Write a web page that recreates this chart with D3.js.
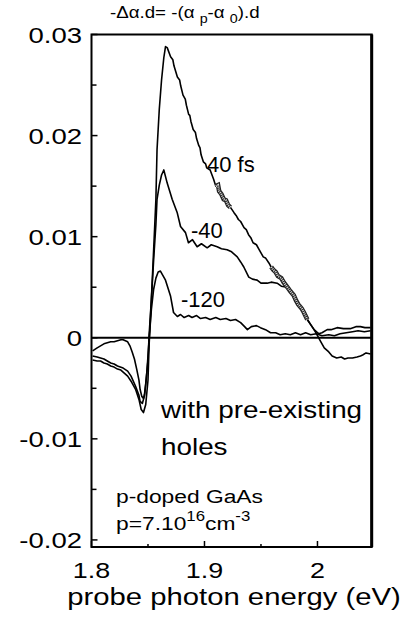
<!DOCTYPE html>
<html>
<head>
<meta charset="utf-8">
<script src="https://cdn.jsdelivr.net/npm/d3@7"></script>
<style>
  body { margin: 0; background: #fff; }
  text { font-family: "Liberation Sans", Arial, Helvetica, sans-serif; fill: #000; }
</style>
</head>
<body>
<svg id="chart" width="409" height="626"></svg>
<script>
// Data: [photon energy (eV), -delta alpha . d]
const trace40fs = [
  [1.801,-0.0013],[1.805,-0.0010],[1.808,-0.0008],[1.811,-0.0006],[1.814,-0.0005],[1.817,-0.0004],
  [1.820,-0.0004],[1.823,-0.0003],[1.826,-0.0002],[1.828,-0.0002],[1.830,-0.0003],[1.832,-0.0004],
  [1.834,-0.0008],[1.836,-0.0014],[1.838,-0.0021],[1.840,-0.0031],[1.842,-0.0042],[1.843,-0.0051],
  [1.8445,-0.0058],[1.846,-0.0060],[1.847,-0.0055],[1.848,-0.0046],[1.850,-0.0022],[1.851,0.0003],
  [1.853,0.0038],[1.855,0.0087],[1.857,0.0137],[1.858,0.0186],[1.860,0.0226],[1.862,0.0255],
  [1.864,0.0277],[1.8655,0.0288],[1.867,0.0287],[1.870,0.0278],[1.872,0.0275],[1.873,0.0269],
  [1.876,0.0258],[1.878,0.0255],[1.879,0.0249],[1.881,0.0240],[1.883,0.0236],[1.884,0.0230],
  [1.886,0.0221],[1.887,0.0220],[1.888,0.0214],[1.890,0.0206],[1.892,0.0203],[1.893,0.0197],
  [1.895,0.0190],[1.896,0.0188],[1.897,0.0181],[1.899,0.0174],[1.901,0.0172],[1.902,0.0168],
  [1.905,0.0166],[1.907,0.0160],[1.908,0.0157],[1.910,0.0150],[1.912,0.0151],[1.913,0.0145],
  [1.915,0.0142],[1.917,0.0137],[1.919,0.0136],[1.921,0.0131],[1.923,0.0129],[1.926,0.0124],
  [1.928,0.0121],[1.930,0.0117],[1.932,0.0115],[1.935,0.0109],[1.937,0.0107],[1.939,0.0102],
  [1.941,0.0099],[1.943,0.0094],[1.946,0.0092],[1.948,0.0088],[1.950,0.0084],[1.952,0.0080],
  [1.954,0.0079],[1.957,0.0074],[1.959,0.0070],[1.961,0.0067],[1.963,0.0065],[1.965,0.0061],
  [1.968,0.0059],[1.970,0.0055],[1.972,0.0052],[1.974,0.0049],[1.976,0.0046],[1.979,0.0042],
  [1.981,0.0037],[1.983,0.0033],[1.986,0.0029],[1.988,0.0025],[1.991,0.0018],[1.994,0.0013],
  [1.997,0.0008],[2.000,0.0002],[2.003,-0.0004],[2.006,-0.0010],[2.010,-0.0014],[2.013,-0.0018],
  [2.017,-0.0020],[2.021,-0.0019],[2.024,-0.0021],[2.027,-0.0020],[2.031,-0.0020],[2.035,-0.0019],
  [2.038,-0.0018],[2.040,-0.0017],[2.043,-0.0015],[2.047,-0.0016]
];

const traceMinus40 = [
  [1.801,-0.0022],[1.805,-0.0023],[1.808,-0.0023],[1.811,-0.0025],[1.814,-0.0026],[1.817,-0.0028],
  [1.820,-0.0029],[1.823,-0.0031],[1.826,-0.0032],[1.828,-0.0034],[1.832,-0.0038],[1.835,-0.0043],
  [1.839,-0.0051],[1.842,-0.0061],[1.844,-0.0071],[1.846,-0.0074],[1.848,-0.0066],[1.850,-0.0042],
  [1.851,-0.0007],[1.853,0.0038],[1.855,0.0077],[1.857,0.0112],[1.858,0.0137],[1.860,0.0151],
  [1.862,0.0161],[1.864,0.0166],[1.867,0.0153],[1.8714,0.0137],[1.8758,0.0124],[1.8788,0.0110],
  [1.8832,0.0104],[1.8858,0.0094],[1.8894,0.0097],[1.8935,0.0090],[1.8973,0.0093],[1.9024,0.0089],
  [1.906,0.0092],[1.9112,0.0090],[1.915,0.0088],[1.920,0.0087],[1.924,0.0085],[1.929,0.0080],
  [1.932,0.0075],[1.9348,0.0070],[1.9392,0.0060],[1.9425,0.0058],[1.9466,0.0057],[1.950,0.0054],
  [1.9555,0.0054],[1.959,0.0055],[1.9643,0.0054],[1.968,0.0051],[1.9732,0.0050],[1.9788,0.0042],
  [1.983,0.0033],[1.9876,0.0025],[1.991,0.0018],[1.994,0.0013],[1.997,0.0008],[2.001,0.0004],
  [2.004,0.0005],[2.0086,0.0008],[2.012,0.0008],[2.0174,0.0010],[2.023,0.0009],[2.029,0.0009],
  [2.034,0.0011],[2.038,0.0011],[2.042,0.0010],[2.047,0.0010]
];

const traceMinus120 = [
  [1.801,-0.0018],[1.805,-0.0019],[1.808,-0.0020],[1.811,-0.0021],[1.814,-0.0023],[1.817,-0.0025],
  [1.820,-0.0026],[1.823,-0.0028],[1.828,-0.0030],[1.832,-0.0033],[1.835,-0.0038],[1.839,-0.0048],
  [1.842,-0.0057],[1.843,-0.0063],[1.845,-0.0065],[1.847,-0.0057],[1.849,-0.0034],[1.851,-0.0002],
  [1.853,0.0028],[1.855,0.0048],[1.857,0.0059],[1.859,0.0065],[1.861,0.0066],[1.8655,0.0057],
  [1.870,0.0041],[1.8726,0.0025],[1.876,0.0021],[1.8788,0.0023],[1.882,0.0020],[1.886,0.0022],
  [1.889,0.0020],[1.893,0.0022],[1.8965,0.0019],[1.901,0.0020],[1.905,0.0018],[1.910,0.0020],
  [1.914,0.0018],[1.919,0.0019],[1.923,0.0017],[1.9275,0.0018],[1.932,0.0015],[1.9355,0.0011],
  [1.938,0.0008],[1.9415,0.0011],[1.946,0.0012],[1.9495,0.0010],[1.954,0.0008],[1.9585,0.0005],
  [1.963,0.0005],[1.967,0.0003],[1.9715,0.0004],[1.976,0.0003],[1.9805,0.0005],[1.985,0.0003],
  [1.9895,0.0005],[1.994,0.0003],[1.999,0.0004],[2.004,0.0002],[2.010,0.0003],[2.015,0.0002],
  [2.020,0.0004],[2.0255,0.0005],[2.031,0.0006],[2.036,0.0007],[2.0415,0.0006],[2.047,0.0007]
];

// energy ranges where the 40 fs trace looks hatched
const hatchRanges = [[1.910, 1.925], [1.958, 1.991]];

const xMajor = [1.8, 1.9, 2.0];
const xMinor = [1.85, 1.95];
const xTickLabels = ["1.8", "1.9", "2"];
const yMajor = [0.03, 0.02, 0.01, 0, -0.01, -0.02];
const yMinor = [0.025, 0.015, 0.005, -0.005, -0.015];
const yTickLabels = ["0.03", "0.02", "0.01", "0", "-0.01", "-0.02"];

const svg = d3.select("#chart");

const x = d3.scaleLinear().domain([1.8, 2.048]).range([91.5, 371.7]);
const y = d3.scaleLinear().domain([-0.0207, 0.03]).range([547, 34.5]);

// text helper, the figure's lettering is a bit wider than normal
function label(px, py, size, sx, anchor) {
  return svg.append("g")
    .attr("transform", "translate(" + px + "," + py + ") scale(" + sx + ",1)")
    .append("text")
    .attr("text-anchor", anchor || "start")
    .style("font-size", size + "px");
}

// zero line
svg.append("line")
  .attr("x1", x(1.8)).attr("x2", x(2.048))
  .attr("y1", y(0)).attr("y2", y(0))
  .attr("stroke", "#000").attr("stroke-width", 2);

// curves
const line = d3.line().x(d => x(d[0])).y(d => y(d[1]));

[trace40fs, traceMinus40, traceMinus120].forEach(function(tr) {
  svg.append("path")
    .datum(tr)
    .attr("d", line)
    .attr("fill", "none")
    .attr("stroke", "#000")
    .attr("stroke-width", 1.6)
    .attr("stroke-linejoin", "round");
});

// hatched bits of the 40 fs trace
hatchRanges.forEach(function(r) {
  const part = trace40fs.filter(d => d[0] >= r[0] && d[0] <= r[1]);
  svg.append("path").datum(part).attr("d", line)
    .attr("fill", "none").attr("stroke", "#222").attr("stroke-width", 4.6);
  svg.append("path").datum(part).attr("d", line)
    .attr("fill", "none").attr("stroke", "#ddd").attr("stroke-width", 2.2)
    .attr("stroke-dasharray", "1,1");
});

// frame
svg.append("rect")
  .attr("x", x(1.8)).attr("y", y(0.03))
  .attr("width", x(2.048) - x(1.8)).attr("height", y(-0.0207) - y(0.03))
  .attr("fill", "none").attr("stroke", "#000").attr("stroke-width", 2);
svg.append("line")
  .attr("x1", x(2.048)).attr("x2", x(2.048))
  .attr("y1", y(0.03)).attr("y2", y(-0.0207))
  .attr("stroke", "#000").attr("stroke-width", 3);

// axes with inward ticks
const yAxis = svg.append("g").attr("transform", "translate(" + x(1.8) + ",0)");
yAxis.selectAll(".maj").data(yMajor).enter().append("line")
  .attr("x1", 0).attr("x2", 6).attr("y1", d => y(d)).attr("y2", d => y(d))
  .attr("stroke", "#000").attr("stroke-width", 1.5);
yAxis.selectAll(".min").data(yMinor).enter().append("line")
  .attr("x1", 0).attr("x2", 5).attr("y1", d => y(d)).attr("y2", d => y(d))
  .attr("stroke", "#000").attr("stroke-width", 1.5);

const xAxis = svg.append("g").attr("transform", "translate(0," + y(-0.0207) + ")");
xAxis.selectAll(".maj").data(xMajor).enter().append("line")
  .attr("x1", d => x(d)).attr("x2", d => x(d)).attr("y1", 0).attr("y2", -6)
  .attr("stroke", "#000").attr("stroke-width", 1.5);
xAxis.selectAll(".min").data(xMinor).enter().append("line")
  .attr("x1", d => x(d)).attr("x2", d => x(d)).attr("y1", 0).attr("y2", -3)
  .attr("stroke", "#000").attr("stroke-width", 1.5);

// tick labels
yMajor.forEach(function(v, i) {
  label(82, y(v) + 8, 22, 1.25, "end").text(yTickLabels[i]);
});
xMajor.forEach(function(v, i) {
  label(x(v), 578, 21.5, 1.25, "middle").text(xTickLabels[i]);
});

// axis title
label(234, 605, 24, 1.22, "middle").text("probe photon energy (eV)");

// formula on top
const t = label(110, 18, 17, 1.1, "start");
t.append("tspan").text("-\u0394\u03b1.d= -(\u03b1 ");
t.append("tspan").attr("dy", 5).style("font-size", "13px").text("p");
t.append("tspan").attr("dy", -5).text("-\u03b1 ");
t.append("tspan").attr("dy", 5).style("font-size", "13px").text("0");
t.append("tspan").attr("dy", -5).text(").d");

// curve labels
label(207, 172, 22, 1, "start").text("40 fs");
label(191, 238, 22, 1, "start").text("-40");
label(181, 307, 22, 1, "start").text("-120");

label(161, 418, 24, 1.16, "start").text("with pre-existing");
label(161, 455, 24, 1.16, "start").text("holes");

label(116, 503, 19, 1.2, "start").text("p-doped GaAs");
const p = label(116, 530, 19, 1.2, "start");
p.append("tspan").text("p=7.10");
p.append("tspan").attr("dy", -9).style("font-size", "14px").text("16");
p.append("tspan").attr("dy", 9).text("cm");
p.append("tspan").attr("dy", -9).style("font-size", "14px").text("-3");
</script>
</body>
</html>
